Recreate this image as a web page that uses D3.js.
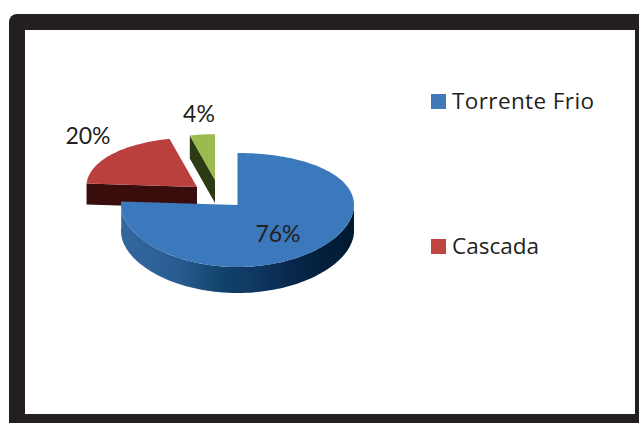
<!DOCTYPE html>
<html>
<head>
<meta charset="utf-8">
<script src="https://cdn.jsdelivr.net/npm/d3@7"></script>
<style>
    html, body { margin: 0; padding: 0; background: #fff; }
    svg { display: block; }
    text { font-family: Lato, "Open Sans", sans-serif; fill: #231f20; }
    .legend text { font-family: "Open Sans", sans-serif; }
</style>
</head>
<body>
<div id="chart"></div>
<script>
// 3D EXPLODED PIE

// Data

var categories = ["Torrente Frio", "Cascada", ""];
var shares = [76, 20, 4];
var legendCategories = ["Torrente Frio", "Cascada"];

// Chart variables

var width = 639;
var height = 423;
var cx = 237.5;
var cy = 205;
var rx = 116.5;

var topColors = ["#3c78bc", "#b9403c", "#9bbb4f"];
var sideColors = ["#0d3d68", "#3a0d0d", "#2c3b14"];
var legendColors = ["#4179bb", "#c0443f"];

// Slice placement: how far each slice is pulled out, its size and its thickness
var explode = [
    {dx: 0, dy: 0, scale: 1, depth: 26},
    {dx: -40.5, dy: -18, scale: 0.95, depth: 21},
    {dx: -22.5, dy: -25, scale: 0.87, depth: 23}
];

// Label anchors
var labelPos = [[278, 242], [88, 144], [199, 122]];

// Legend text widths, stretched to fit since the original font is not installed
var legendTextWidths = [142, 87];

var svg = d3.select("#chart")
    .append("svg")
    .attr("width", width)
    .attr("height", height);

// Frame

svg.append("rect")
    .attr("x", 9)
    .attr("y", 14)
    .attr("width", 660)
    .attr("height", 440)
    .attr("rx", 8)
    .attr("fill", "#231f20");

svg.append("rect")
    .attr("x", 25)
    .attr("y", 30)
    .attr("width", 610)
    .attr("height", 384)
    .attr("fill", "#fff");

// Gradient along the wall of the big slice

var defs = svg.append("defs");
var wallGrad = defs.append("linearGradient")
    .attr("id", "wallGrad")
    .attr("gradientUnits", "userSpaceOnUse")
    .attr("x1", cx - rx).attr("x2", cx + rx)
    .attr("y1", 0).attr("y2", 0);

[["0%", "#33689f"], ["25%", "#285c90"], ["45%", "#0f4069"], ["55%", "#103a64"], ["75%", "#06264a"], ["100%", "#00192f"]]
    .forEach(function(s) {
        wallGrad.append("stop").attr("offset", s[0]).attr("stop-color", s[1]);
    });

// Pie layout (clockwise from 12 o'clock, in data order)

var pie = d3.pie().sort(null)(shares);

// Projection of a point of the disc, angle clockwise from the top, r from 0 to 1
function project(angle, r, e) {
    var v = -Math.cos(angle) * r * e.scale;
    return [
        cx + e.dx + rx * Math.sin(angle) * r * e.scale,
        cy + e.dy + 57 * v + 5 * v * v
    ];
}

function rim(a0, a1, e) {
    var n = Math.max(2, Math.ceil((a1 - a0) / 0.03));
    return d3.range(n + 1).map(function(i) {
        return project(a0 + (a1 - a0) * i / n, 1, e);
    });
}

function drop(points, depth) {
    return points.map(function(p) { return [p[0], p[1] + depth]; });
}

var line = d3.line();

function closed(points) {
    return line(points) + "Z";
}

// Draw the small slices first, the big slice goes on top of them

[1, 2, 0].forEach(function(i) {
    var d = pie[i];
    var e = explode[i];
    var g = svg.append("g").attr("class", "slice");
    var apex = project(0, 0, e);
    var start = project(d.startAngle, 1, e);

    if (i === 0) {
        // Outer wall, from the right extreme round the front to the end of the slice
        var front = rim(Math.PI / 2, d.endAngle, e);
        g.append("path")
            .attr("d", closed(front.concat(drop(front, e.depth).reverse())))
            .attr("fill", "url(#wallGrad)");
    } else {
        // Cut face that looks towards the viewer
        g.append("path")
            .attr("d", closed([start, apex, [apex[0], apex[1] + e.depth], [start[0], start[1] + e.depth]]))
            .attr("fill", sideColors[i]);
    }

    // Top face
    g.append("path")
        .attr("d", closed([apex].concat(rim(d.startAngle, d.endAngle, e))))
        .attr("fill", topColors[i]);
});

// Data labels

svg.selectAll(".label")
    .data(shares)
    .enter()
    .append("text")
    .attr("class", "label")
    .attr("x", function(d, i) { return labelPos[i][0]; })
    .attr("y", function(d, i) { return labelPos[i][1]; })
    .attr("text-anchor", "middle")
    .attr("font-size", 23)
    .text(function(d) { return d + "%"; });

// Legend

var legendY = d3.scalePoint().domain(legendCategories).range([101.5, 246.5]);

var legend = svg.selectAll(".legend")
    .data(legendCategories)
    .enter()
    .append("g")
    .attr("class", "legend")
    .attr("transform", function(d) { return "translate(431," + legendY(d) + ")"; });

legend.append("rect")
    .attr("x", 0)
    .attr("y", -7.5)
    .attr("width", 15)
    .attr("height", 15)
    .attr("fill", function(d, i) { return legendColors[i]; });

legend.append("text")
    .attr("x", 21)
    .attr("y", 7.5)
    .attr("font-size", 22.5)
    .attr("textLength", function(d, i) { return legendTextWidths[i]; })
    .attr("lengthAdjust", "spacing")
    .text(function(d) { return d; });
</script>
</body>
</html>
